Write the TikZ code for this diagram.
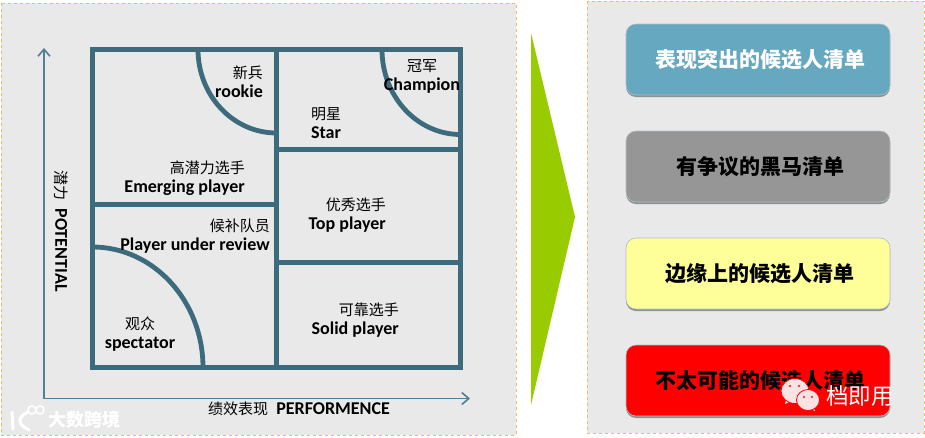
\documentclass[tikz,border=0pt]{standalone}
\usepackage{fontspec}
\setmainfont{Carlito}
\newfontfamily\cjk{Noto Sans CJK SC}
\usetikzlibrary{arrows.meta,shadows}
\definecolor{panelgray}{HTML}{E9E9E9}
\definecolor{panelrim}{HTML}{EDB96A}
\definecolor{gridblue}{HTML}{3D6B7E}
\definecolor{axisblue}{HTML}{4F8093}
\definecolor{tipgreen}{HTML}{99CC00}
\definecolor{btnblue}{HTML}{66A8C0}
\definecolor{btngray}{HTML}{969696}
\definecolor{btnyellow}{HTML}{FFFF99}
\definecolor{btnrim}{HTML}{B4BEC4}
\definecolor{btnshade}{HTML}{8A9296}
\definecolor{bubblepink}{HTML}{FBE3E3}
\definecolor{dotred}{HTML}{D8464A}
\tikzset{
  panel/.style={fill=panelgray,draw=panelrim,dashed,line width=0.8pt},
  gridline/.style={draw=gridblue,line width=5pt},
  gridarc/.style={draw=gridblue,line width=4.8pt},
  axisline/.style={draw=axisblue,line width=1.6pt,{Straight Barb[length=7pt,width=12pt]}-{Straight Barb[length=7pt,width=12pt]}},
  cell/.style={font=\fontsize{18}{19}\selectfont\bfseries,align=right,inner sep=0pt},
  btn/.style={minimum width=264pt,minimum height=71pt,inner sep=0pt,rounded corners=10pt,draw=btnrim,line width=0.6pt,
    drop shadow={shadow xshift=0pt,shadow yshift=-2pt,fill=btnshade,opacity=1},
    font=\fontsize{21}{24}\selectfont\cjk\bfseries},
  bubble/.style={fill=bubblepink,draw=red,line width=0.8pt},
  stamp/.style={inner sep=0pt,text=white}
}
\newcommand{\zh}[1]{{\cjk\fontsize{15}{19}\selectfont\mdseries #1}}
\begin{document}
\begin{tikzpicture}[x=1pt,y=-1pt]
  \useasboundingbox (0,0) rectangle (925,437);
  \draw[panel] (1,3) rectangle (516,435);
  \draw[panel] (587,1) rectangle (924,433);
  \fill[tipgreen] (531,33) -- (575,217) -- (531,405) -- cycle;

  \coordinate (ytip) at (44,48);
  \coordinate (origin) at (44,398.5);
  \coordinate (xtip) at (470,398.5);
  \draw[axisline] (ytip) -- (origin) -- (xtip);

  \coordinate (nw) at (92.5,49.5);
  \coordinate (se) at (460.5,367.5);
  \coordinate (midtop) at (276.5,49.5);
  \coordinate (midbot) at (276.5,367.5);
  \draw[gridline] (nw) rectangle (se);
  \draw[gridline] (midtop) -- (midbot);
  \draw[gridline] (92.5,204.5) -- (276.5,204.5);
  \draw[gridline] (276.5,149.5) -- (460.5,149.5);
  \draw[gridline] (276.5,262.5) -- (460.5,262.5);
  \draw[gridarc] (198,49.5) arc[start angle=180,end angle=90,x radius=78.5,y radius=83.5];
  \draw[gridarc] (382,49.5) arc[start angle=180,end angle=90,x radius=78.5,y radius=85];
  \draw[gridarc] (92.5,247) arc[start angle=90,end angle=0,x radius=110.5,y radius=-120.5];

  \draw
    (263,82) node[cell,anchor=east] (rookie){\zh{新兵}\\rookie}
    (245,178) node[cell,anchor=east] (emerging){\zh{高潜力选手}\\Emerging player}
    (270,236) node[cell,anchor=east] (review){\zh{候补队员}\\Player under review}
    (140,334) node[cell,align=center] (spectator){\zh{观众}\\spectator}
    (326,123.5) node[cell,align=center] (star){\zh{明星}\\Star}
    (422,76) node[cell,align=center] (champion){\zh{冠军}\\Champion}
    (386,215.5) node[cell,anchor=east] (topplayer){\zh{优秀选手}\\Top player}
    (399,320) node[cell,anchor=east] (solid){\zh{可靠选手}\\Solid player};
  \node[cell,rotate=-90] (potential) at (61,231) {\zh{潜力}\ \ POTENTIAL};
  \node[cell] (performence) at (299,409) {\zh{绩效表现}\ \ PERFORMENCE};

  \draw
    (758,59.5) node[btn,fill=btnblue,text=white] (outstanding){\hspace{4pt}表现突出的候选人清单}
    (758,166.5) node[btn,fill=btngray,text=black] (disputed){\hspace{4pt}有争议的黑马清单}
    (758,273.5) node[btn,fill=btnyellow,text=black] (marginal){\hspace{4pt}边缘上的候选人清单}
    (758,380.5) node[btn,fill=red,text=black] (unlikely){\hspace{4pt}不太可能的候选人清单};

  \draw[white,line width=3pt,line cap=round] (12,412) -- (13,429);
  \draw[white,line width=3pt,line cap=round] (28,412) .. controls (17,417) and (17,424) .. (29,430);
  \draw[white,line width=1.6pt] (32,410) circle (4pt) (40,410) circle (4pt);
  \node[stamp,font=\fontsize{18}{18}\selectfont\cjk\bfseries] (brand) at (84,420) {大数跨境};

  \fill[bubblepink] (785,404) -- (787,396) -- (793,400) -- cycle;
  \draw[bubble] (795,391) ellipse (14pt and 12.5pt);
  \fill[bubblepink] (815,411) -- (812,403) -- (806,407) -- cycle;
  \draw[bubble] (808,400) ellipse (11.5pt and 10.5pt);
  \fill[dotred] (790,386) circle[radius=1.4pt] (799,386) circle[radius=1.4pt] (804,397) circle[radius=1.4pt] (812,397) circle[radius=1.4pt];
  \node[stamp,font=\fontsize{22.5}{22.5}\selectfont\cjk] (account) at (860,396) {档即用};
\end{tikzpicture}
\end{document}
